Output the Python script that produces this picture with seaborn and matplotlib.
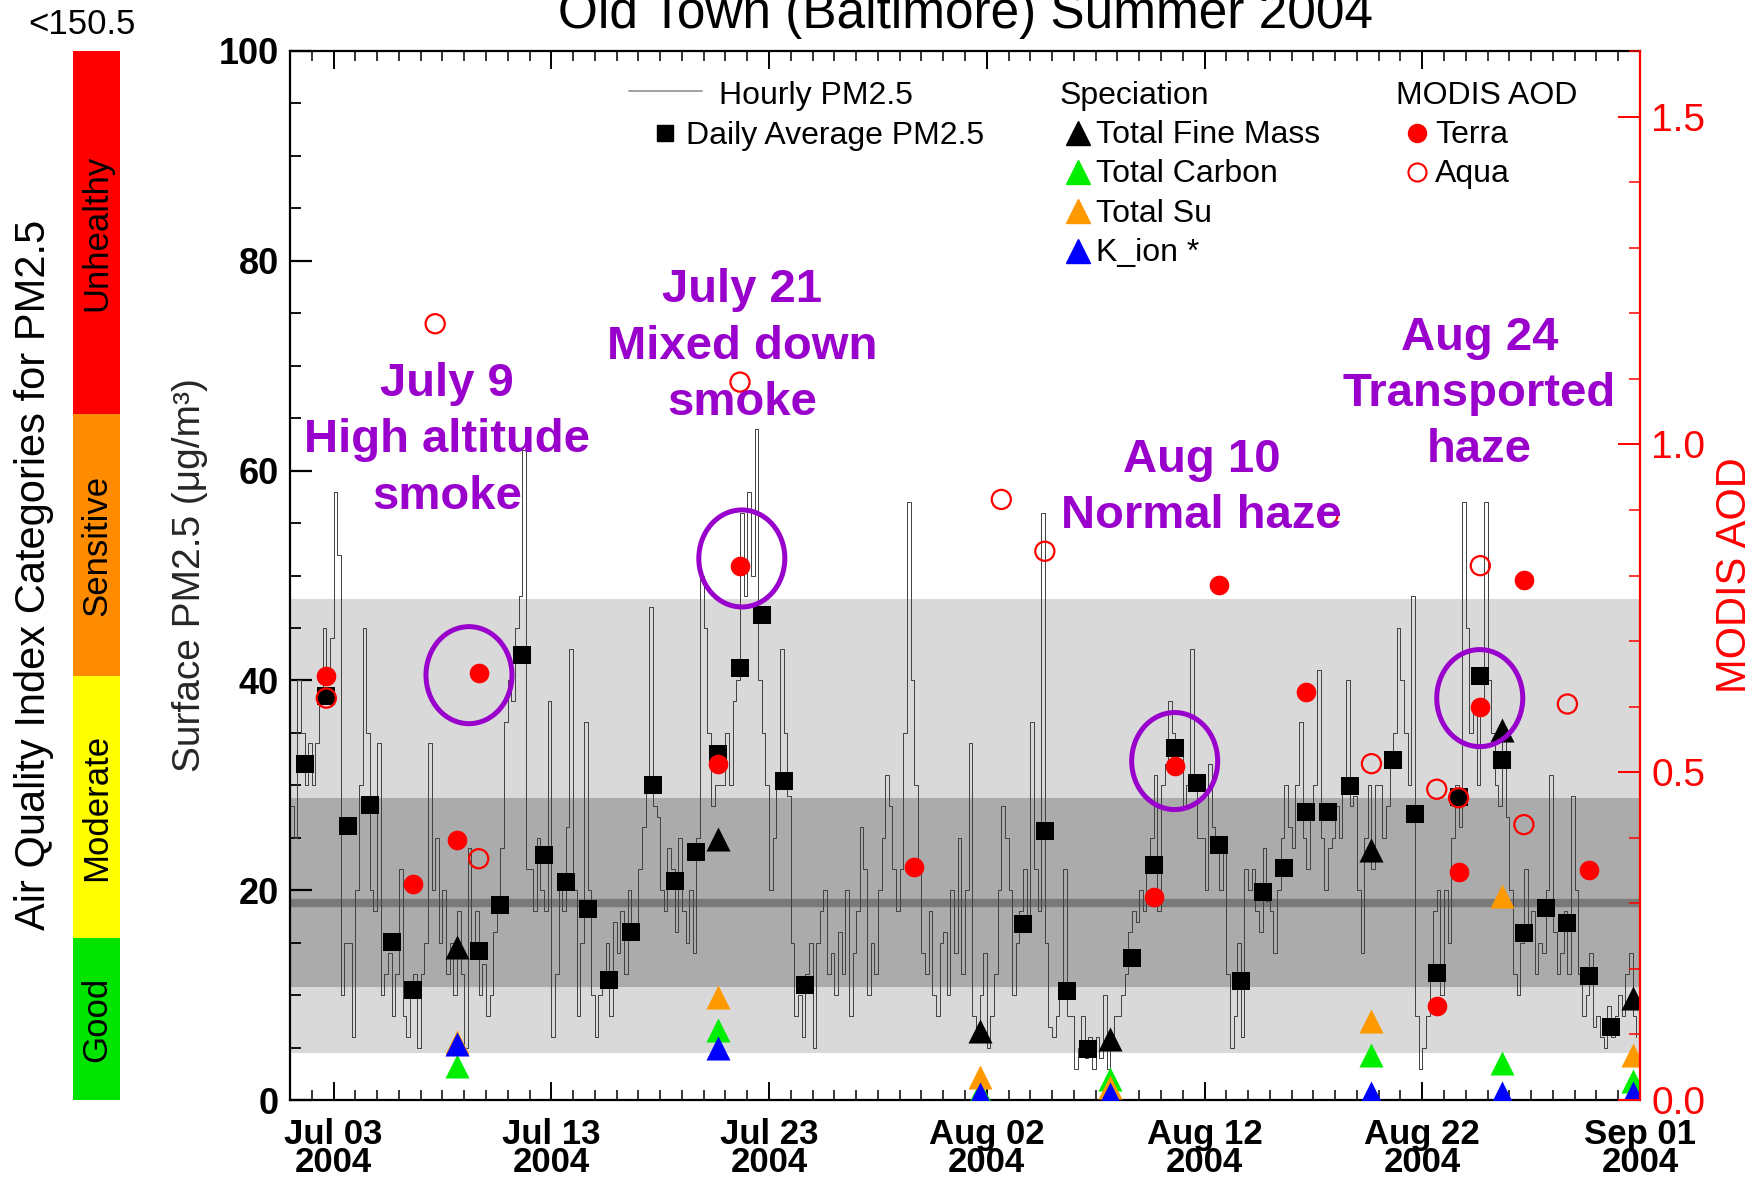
import numpy as np
import pandas as pd
import matplotlib
matplotlib.use("Agg")
import matplotlib.pyplot as plt
import matplotlib.dates as mdates
from matplotlib.ticker import MultipleLocator, FixedLocator
from matplotlib.patches import Ellipse
import seaborn as sns

# ---------------- data ----------------
nan = np.nan
start = pd.Timestamp("2004-07-01")
end = pd.Timestamp("2004-09-01")

# 4-hourly PM2.5 trace (00,04,08,12,16,20 UTC), one row per day
hourly_jul = [
    [28, 25, 40, 35, 30, 34], [30, 34, 38, 45, 40, 44], [58, 52, 10, 15, 15, 6],
    [20, 30, 45, 35, 20, 18], [34, 10, 12, 14, 8, 12], [22, 8, 6, 10, 12, 5],
    [12, 15, 34, 20, 25, 15], [20, 12, 15, 10, 18, 12], [5, 24, 15, 18, 10, 13],
    [8, 10, 16, 18, 24, 36], [40, 38, 45, 48, 62, 22], [22, 18, 25, 20, 18, 38],
    [6, 12, 20, 18, 26, 43], [20, 8, 15, 36, 20, 10], [6, 10, 12, 15, 8, 17],
    [14, 18, 12, 20, 16, 16], [22, 26, 30, 47, 28, 27], [20, 18, 24, 22, 16, 25],
    [18, 15, 20, 14, 25, 50], [45, 35, 28, 30, 30, 30], [35, 30, 38, 40, 56, 48],
    [58, 50, 64, 40, 35, 30], [20, 25, 30, 43, 35, 29], [15, 8, 10, 6, 12, 15],
    [5, 15, 18, 20, 12, 14], [10, 16, 12, 20, 8, 14], [18, 26, 22, 10, 15, 12],
    [20, 25, 31, 28, 22, 18], [22, 35, 57, 40, 30, 22], [14, 12, 18, 10, 8, 15],
    [16, 10, 20, 14, 25, 12],
]
hourly_aug = [
    [20, 34, 8, 6, 10, 14], [5, 8, 12, 20, 28, 25], [20, 10, 15, 18, 22, 16],
    [36, 22, 18, 56, 15, 7], [6, 8, 10, 22, 8, 8], [3, 5, 8, 4, 6, 3],
    [6, 4, 10, 3, 5, 8], [8, 10, 12, 16, 18, 17], [20, 18, 22, 25, 31, 18],
    [30, 32, 38, 35, 33, 34], [28, 30, 43, 30, 25, 25], [20, 32, 26, 24, 20, 24],
    [12, 5, 8, 15, 6, 22], [20, 22, 18, 16, 24, 19], [18, 14, 20, 25, 30, 26],
    [24, 30, 36, 25, 22, 28], [30, 41, 25, 20, 24, 25], [28, 25, 30, 40, 28, 29],
    [20, 14, 25, 30, 22, 30], [30, 25, 28, 32, 35, 45], [40, 35, 30, 48, 8, 3],
    [5, 8, 12, 18, 20, 10], [20, 15, 25, 30, 26, 57], [45, 35, 38, 30, 38, 57],
    [40, 35, 30, 28, 35, 27], [20, 12, 10, 15, 22, 16], [18, 12, 15, 14, 20, 31],
    [16, 12, 14, 18, 12, 29], [20, 12, 8, 10, 14, 7], [8, 6, 5, 9, 6, 8],
    [10, 8, 12, 14, 8, 6],
]

daily_jul = [32.0, 38.5, 26.1, 28.1, 15.1, 10.5, nan, nan, 14.2, 18.6,
             42.4, 23.4, 20.8, 18.2, 11.4, 16.0, 30.0, 20.9, 23.6, 33.0,
             41.2, 46.2, 30.4, 11.0, nan, nan, nan, nan, nan, nan, nan]
daily_aug = [nan, nan, 16.8, 25.6, 10.4, 4.9, nan, 13.5, 22.4, 33.6,
             30.2, 24.3, 11.3, 19.8, 22.1, 27.5, 27.5, 29.9, nan, 32.4,
             27.3, 12.1, 28.9, 40.4, 32.4, 15.9, 18.3, 16.9, 11.8, 7.0, nan]

spec_dates = ["2004-07-08", "2004-07-20", "2004-08-01", "2004-08-07",
              "2004-08-19", "2004-08-25", "2004-08-31"]
spec_tfm = [14.6, 24.9, 6.6, 5.8, 23.8, 35.3, 9.7]
spec_carbon = [3.2, 6.7, 0.8, 2.0, 4.3, 3.5, 1.8]
spec_sulfate = [5.5, 9.8, 2.2, 1.2, 7.5, 19.4, 4.3]
spec_kion = [5.3, 5.0, 0.6, 0.6, 0.7, 0.7, 0.7]

terra_dates = ["2004-07-02", "2004-07-06", "2004-07-08", "2004-07-09", "2004-07-20",
               "2004-07-21", "2004-07-29", "2004-08-09", "2004-08-10", "2004-08-12",
               "2004-08-16", "2004-08-22", "2004-08-23", "2004-08-24", "2004-08-26",
               "2004-08-29"]
terra_aod = [0.646, 0.330, 0.396, 0.651, 0.513, 0.815, 0.356, 0.310, 0.510, 0.785,
             0.623, 0.144, 0.347, 0.600, 0.793, 0.351]
aqua_dates = ["2004-07-02", "2004-07-07", "2004-07-09", "2004-07-21", "2004-08-02",
              "2004-08-04", "2004-08-17", "2004-08-19", "2004-08-22", "2004-08-23",
              "2004-08-24", "2004-08-26", "2004-08-28"]
aqua_aod = [0.613, 1.184, 0.368, 1.095, 0.916, 0.837, 0.892, 0.513, 0.474, 0.461,
            0.815, 0.420, 0.604]

band_outer = (4.5, 47.8)
band_inner = (10.8, 28.8)
mean_line = 18.8

aqi_names = ["Good", "Moderate", "Sensitive", "Unhealthy"]
aqi_low = [0.0, 15.4, 40.4, 65.4]
aqi_high = [15.4, 40.4, 65.4, 150.5]
aqi_colors = ["#00e400", "#ffff00", "#ff8c00", "#ff0000"]

tick_dates = pd.date_range("2004-07-03", periods=7, freq="10D")
tick_labels = ["Jul 03\n2004", "Jul 13\n2004", "Jul 23\n2004", "Aug 02\n2004",
               "Aug 12\n2004", "Aug 22\n2004", "Sep 01\n2004"]

notes = ["July 9\nHigh altitude\nsmoke", "July 21\nMixed down\nsmoke",
         "Aug 10\nNormal haze", "Aug 24\nTransported\nhaze"]

# ---------------- frames ----------------
hourly_vals = np.array(hourly_jul + hourly_aug, dtype=float).ravel()
hourly_time = start + pd.to_timedelta(np.arange(hourly_vals.size) * 4, unit="h")
df_h = pd.DataFrame({"time": hourly_time, "pm": hourly_vals})

days = pd.date_range(start, periods=62, freq="D")
df_d = pd.DataFrame({"time": days + pd.Timedelta(hours=16),
                     "pm": daily_jul + daily_aug}).dropna()
spec_t = pd.to_datetime(spec_dates) + pd.Timedelta(hours=16)
df_terra = pd.DataFrame({"time": pd.to_datetime(terra_dates) + pd.Timedelta(hours=16), "aod": terra_aod})
df_aqua = pd.DataFrame({"time": pd.to_datetime(aqua_dates) + pd.Timedelta(hours=16), "aod": aqua_aod})

# ---------------- style ----------------
sns.set_theme(style="ticks")
plt.rcParams["font.family"] = ["Liberation Sans", "DejaVu Sans"]
plt.rcParams["axes.linewidth"] = 1.6
plt.rcParams["axes.edgecolor"] = "black"
plt.rcParams["text.color"] = "black"
plt.rcParams["xtick.color"] = "black"
plt.rcParams["ytick.color"] = "black"

W, H = 1761, 1192
fig = plt.figure(figsize=(W / 100, H / 100), dpi=100)
ax = fig.add_axes([290 / W, 1 - 1100 / H, 1350 / W, 1049 / H])
axq = fig.add_axes([73 / W, 1 - 1100 / H, 47 / W, 1049 / H])

PURPLE = "#9900cc"

# background bands
ax.axhspan(*band_outer, color="#d9d9d9", lw=0, zorder=0)
ax.axhspan(*band_inner, color="#ababab", lw=0, zorder=0.1)
ax.axhline(mean_line, color="#7a7a7a", lw=6.0, zorder=0.2)

# hourly trace
sns.lineplot(data=df_h, x="time", y="pm", ax=ax, color="#404040", linewidth=0.7,
             drawstyle="steps-post", estimator=None, legend=False, zorder=2)
# daily averages
sns.scatterplot(data=df_d, x="time", y="pm", ax=ax, marker="s", s=160,
                color="black", edgecolor="black", linewidth=0, zorder=3, legend=False)
# speciation
for vals, col in [(spec_tfm, "black"), (spec_carbon, "#00ee00"),
                  (spec_sulfate, "#ff9900"), (spec_kion, "#0000ff")]:
    sns.scatterplot(x=spec_t, y=vals, ax=ax, marker="^", s=300, color=col,
                    edgecolor=col, linewidth=0, zorder=4, legend=False)

ax.set_xlim(start, end)
ax.set_ylim(0, 100)

# twin axis: MODIS AOD
ax2 = ax.twinx()
sns.scatterplot(data=df_terra, x="time", y="aod", ax=ax2, marker="o", s=200,
                color="red", edgecolor="red", linewidth=0, zorder=5, legend=False)
sns.scatterplot(data=df_aqua, x="time", y="aod", ax=ax2, marker="o", s=190,
                color="red", edgecolor="red", linewidth=1.6, zorder=5, legend=False)
coll = ax2.collections[-1]
coll.set_facecolor("none")
coll.set_edgecolor("red")
ax2.set_ylim(0, 1.6)
ax2.set_xlim(start, end)

# ---------------- axes cosmetics ----------------
ax.set_xlabel("")
ax.set_ylabel("Surface PM2.5 (μg/m³)", fontsize=28)
ax.yaxis.set_label_coords(-0.061, 0.5)
ax.set_yticks([0, 20, 40, 60, 80, 100])
ax.set_yticklabels(["0", "20", "40", "60", "80", "100"], fontweight="bold")
ax.yaxis.set_minor_locator(MultipleLocator(5))
ax.set_xticks(mdates.date2num(tick_dates))
ax.set_xticklabels(tick_labels, fontweight="bold", linespacing=0.8)
ax.xaxis.set_minor_locator(mdates.DayLocator())
ax.tick_params(axis="y", which="major", direction="in", length=16, width=1.6,
               labelsize=26, pad=8, right=False)
ax.tick_params(axis="y", which="minor", direction="in", length=8, width=1.3, right=False)
ax.tick_params(axis="x", which="major", direction="in", length=13, width=1.4,
               labelsize=25, pad=13, top=True)
ax.tick_params(axis="x", which="minor", direction="in", length=7, width=1.1, top=True)
ax.spines["right"].set_visible(False)

ax2.set_xlabel("")
ax2.set_ylabel("MODIS AOD", color="red", fontsize=30)
ax2.yaxis.set_label_coords(1.0556, 0.5)
ax2.yaxis.set_major_locator(FixedLocator([0.0, 0.5, 1.0, 1.5]))
ax2.set_yticklabels(["0.0", "0.5", "1.0", "1.5"])
ax2.yaxis.set_minor_locator(MultipleLocator(0.1))
ax2.tick_params(axis="y", which="major", direction="in", length=16, width=1.4,
                colors="red", labelsize=28, pad=8)
ax2.tick_params(axis="y", which="minor", direction="in", length=8, width=1.1, colors="red")
ax2.spines["right"].set_color("red")
for s in ["left", "top", "bottom"]:
    ax2.spines[s].set_visible(False)

# ---------------- annotations ----------------
def dnum(day):
    return mdates.date2num(start) + day

note_pos = [(7.21, 1.006), (20.75, 1.149), (41.87, 0.934), (54.63, 1.077)]
for txt, (d, y) in zip(notes, note_pos):
    ax2.text(dnum(d), y, txt, ha="center", va="center", fontsize=34,
             fontweight="bold", color=PURPLE, linespacing=1.36, zorder=10)

ring_pos = [(8.22, 0.648), (20.75, 0.826), (40.63, 0.517), (54.64, 0.613)]
for d, y in ring_pos:
    ax2.add_patch(Ellipse((dnum(d), y), width=3.95, height=0.148, fill=False,
                          edgecolor=PURPLE, linewidth=3.6, zorder=11))

# ---------------- legend (manual) ----------------
t = ax2.transAxes
LF = 23
ax2.plot([0.251, 0.305], [0.962, 0.962], transform=t, color="#9a9a9a", lw=1.3, clip_on=False)
ax2.text(0.318, 0.957, "Hourly PM2.5", transform=t, fontsize=LF, va="center")
ax2.plot([0.278], [0.922], transform=t, marker="s", ms=11, color="black", ls="none")
ax2.text(0.293, 0.919, "Daily Average PM2.5", transform=t, fontsize=LF, va="center")

ax2.text(0.570, 0.957, "Speciation", transform=t, fontsize=LF, va="center")
spec_names = ["Total Fine Mass", "Total Carbon", "Total Su", "K_ion *"]
spec_cols = ["black", "#00ee00", "#ff9900", "#0000ff"]
for i, (nm, col) in enumerate(zip(spec_names, spec_cols)):
    yy = 0.922 - i * 0.0375
    ax2.plot([0.584], [yy], transform=t, marker="^", ms=17, color=col, ls="none")
    ax2.text(0.597, yy - 0.002, nm, transform=t, fontsize=LF, va="center")

ax2.text(0.819, 0.957, "MODIS AOD", transform=t, fontsize=LF, va="center")
ax2.plot([0.835], [0.922], transform=t, marker="o", ms=13, color="red", ls="none")
ax2.text(0.848, 0.920, "Terra", transform=t, fontsize=LF, va="center")
ax2.plot([0.835], [0.885], transform=t, marker="o", ms=13, mfc="none", mec="red",
         mew=1.5, ls="none")
ax2.text(0.848, 0.883, "Aqua", transform=t, fontsize=LF, va="center")

# ---------------- AQI category bar ----------------
axq.bar([0] * 4, [h - l for l, h in zip(aqi_low, aqi_high)], bottom=aqi_low,
        width=1.0, color=aqi_colors, linewidth=0)
axq.set_xlim(-0.5, 0.5)
axq.set_ylim(0, 100)
axq.axis("off")
for nm, lo, hi in zip(aqi_names, aqi_low, aqi_high):
    mid = (lo + min(hi, 100)) / 2
    axq.text(0, mid, nm, rotation=90, ha="center", va="center", fontsize=25)

fig.text(82 / W, 1 - 25 / H, "<150.5", ha="center", va="center", fontsize=25)
fig.text(34 / W, 1 - 575 / H, "Air Quality Index Categories for PM2.5",
         rotation=90, ha="center", va="center", fontsize=30)
fig.text(966 / W, 1 - 28 / H, "Old Town (Baltimore) Summer 2004",
         ha="center", va="baseline", fontsize=37)

fig.savefig("out.png", dpi=100)
